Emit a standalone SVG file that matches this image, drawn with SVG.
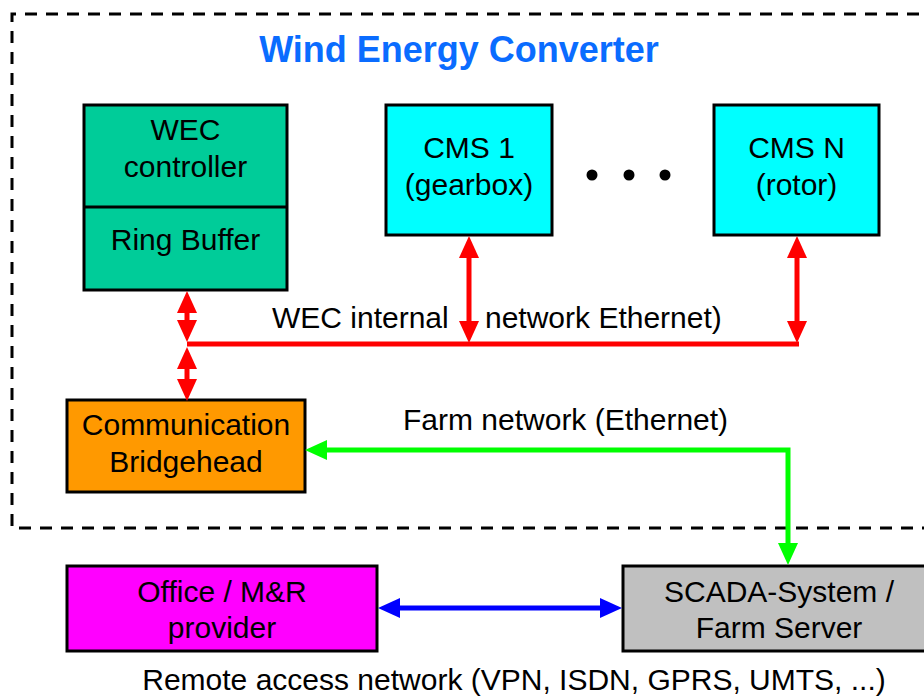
<svg xmlns="http://www.w3.org/2000/svg" width="924" height="699" viewBox="0 0 924 699">
  <style>
    .box { stroke: #000; stroke-width: 3; }
    .lbl { font-family: "Liberation Sans", Arial, sans-serif; font-size: 30px; fill: #000; }
    .mid { text-anchor: middle; }
    .title { font-family: "Liberation Sans", Arial, sans-serif; font-size: 36px; font-weight: bold; fill: #0A6CFF; text-anchor: middle; }
    .frame { fill: none; stroke: #000; stroke-width: 3; stroke-dasharray: 12 9; }
    .red { fill: none; stroke: #FF0000; stroke-width: 5; }
    .green { fill: none; stroke: #00FF00; stroke-width: 5; }
    .blue { fill: none; stroke: #0000FF; stroke-width: 5; }
  </style>
  <defs>
    <marker id="ah-red" markerUnits="userSpaceOnUse" viewBox="0 0 22 20" markerWidth="22" markerHeight="20" refX="10" refY="10" orient="auto-start-reverse">
      <path d="M0,0 L22,10 L0,20 z" fill="#FF0000"/>
    </marker>
    <marker id="ah-green" markerUnits="userSpaceOnUse" viewBox="0 0 22 20" markerWidth="22" markerHeight="20" refX="10" refY="10" orient="auto-start-reverse">
      <path d="M0,0 L22,10 L0,20 z" fill="#00FF00"/>
    </marker>
    <marker id="ah-blue" markerUnits="userSpaceOnUse" viewBox="0 0 22 20" markerWidth="22" markerHeight="20" refX="10" refY="10" orient="auto-start-reverse">
      <path d="M0,0 L22,10 L0,20 z" fill="#0000FF"/>
    </marker>
  </defs>

  <rect width="924" height="699" fill="#fff"/>

  <!-- turbine boundary -->
  <path class="frame" d="M940,14 H12 V528 H940"/>
  <text class="title" x="459" y="62">Wind Energy Converter</text>

  <g id="wec-controller">
    <rect class="box" x="84" y="105" width="203" height="185" fill="#00CC99"/>
    <line x1="84" y1="207" x2="287" y2="207" stroke="#000" stroke-width="3"/>
    <text class="lbl mid" x="185.5" y="140">WEC</text>
    <text class="lbl mid" x="185.5" y="177">controller</text>
    <text class="lbl mid" x="185.5" y="250">Ring Buffer</text>
  </g>

  <g id="cms-1">
    <rect class="box" x="386" y="105" width="166" height="130" fill="#00FFFF"/>
    <text class="lbl mid" x="469" y="158">CMS 1</text>
    <text class="lbl mid" x="469" y="195">(gearbox)</text>
  </g>

  <g id="ellipsis">
    <circle cx="592" cy="175" r="5.5" fill="#000"/>
    <circle cx="629" cy="175" r="5.5" fill="#000"/>
    <circle cx="665" cy="175" r="5.5" fill="#000"/>
  </g>

  <g id="cms-n">
    <rect class="box" x="714" y="105" width="165" height="130" fill="#00FFFF"/>
    <text class="lbl mid" x="796.5" y="158">CMS N</text>
    <text class="lbl mid" x="796.5" y="195">(rotor)</text>
  </g>

  <g id="comm-bridgehead">
    <rect class="box" x="67" y="400" width="238" height="92" fill="#FF9900"/>
    <text class="lbl mid" x="186" y="435">Communication</text>
    <text class="lbl mid" x="186" y="472">Bridgehead</text>
  </g>

  <g id="office">
    <rect class="box" x="67" y="566" width="310" height="85" fill="#FF00FF"/>
    <text class="lbl mid" x="222" y="602">Office / M&amp;R</text>
    <text class="lbl mid" x="222" y="638">provider</text>
  </g>

  <g id="scada">
    <rect class="box" x="623" y="566" width="314" height="85" fill="#C0C0C0"/>
    <text class="lbl mid" x="779" y="602">SCADA-System /</text>
    <text class="lbl mid" x="779" y="638">Farm Server</text>
  </g>

  <g id="connectors">
    <!-- internal Ethernet bus -->
    <line class="red" x1="187" y1="344" x2="799" y2="344"/>
    <line class="red" x1="187" y1="303" x2="187" y2="330" marker-start="url(#ah-red)" marker-end="url(#ah-red)"/>
    <line class="red" x1="187" y1="359" x2="187" y2="389" marker-start="url(#ah-red)" marker-end="url(#ah-red)"/>
    <line class="red" x1="469" y1="248" x2="469" y2="331" marker-start="url(#ah-red)" marker-end="url(#ah-red)"/>
    <line class="red" x1="797" y1="248" x2="797" y2="331" marker-start="url(#ah-red)" marker-end="url(#ah-red)"/>
    <!-- farm network -->
    <path class="green" d="M317,450 H788 V553" marker-start="url(#ah-green)" marker-end="url(#ah-green)"/>
    <!-- remote access -->
    <line class="blue" x1="390" y1="608" x2="610" y2="608" marker-start="url(#ah-blue)" marker-end="url(#ah-blue)"/>
  </g>

  <g id="network-labels">
    <text class="lbl" x="272" y="328">WEC internal</text>
    <text class="lbl" x="485" y="328">network Ethernet)</text>
    <text class="lbl" x="403" y="430">Farm network (Ethernet)</text>
    <text class="lbl mid" x="514" y="690">Remote access network (VPN, ISDN, GPRS, UMTS, ...)</text>
  </g>
</svg>
